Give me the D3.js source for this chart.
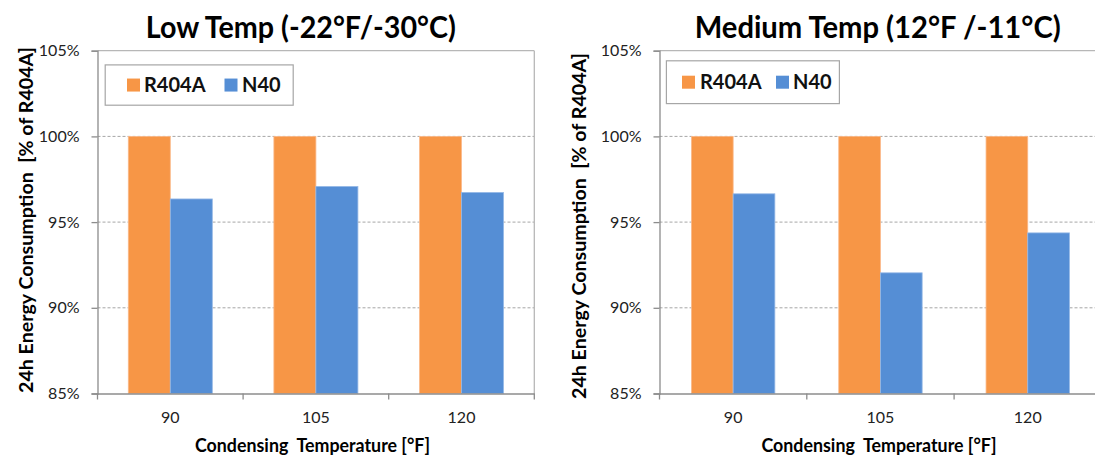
<!DOCTYPE html>
<html><head><meta charset="utf-8">
<script src="https://cdn.jsdelivr.net/npm/d3@7"></script>
<style>
html,body{margin:0;padding:0;background:#fff;}
svg{display:block;font-family:Lato, "Open Sans", sans-serif;}
</style></head>
<body><svg id="chart" width="1095" height="456"></svg>
<script>
const categories = ["90", "105", "120"];
const seriesNames = ["R404A", "N40"];
const lowR404A = [100, 100, 100];
const lowN40 = [96.35, 97.08, 96.73];
const medR404A = [100, 100, 100];
const medN40 = [96.65, 92.04, 94.37];
const yTicks = [85, 90, 95, 100, 105];
const titles = ["Low Temp (-22°F/-30°C)", "Medium Temp (12°F /-11°C)"];
const yTitle = "24h Energy Consumption\u00a0\u00a0[% of R404A]";
const xTitle = "Condensing\u00a0\u00a0Temperature [°F]";

const colors = {R404A: "#F79646", N40: "#558ED5"};
const strokes = {R404A: "#FAB98A", N40: "#95B8E6"};
const svg = d3.select("#chart");

function panel(cfg) {
  const g = svg.append("g");
  const y = d3.scaleLinear().domain([85, 105]).range([393.5, 50.7]);
  const x = d3.scaleBand().domain(categories).range([cfg.x0, cfg.x0 + 3 * cfg.step]).padding(0);
  const xs = d3.scaleBand().domain(seriesNames).range([0, cfg.step]).paddingInner(0).paddingOuter(cfg.po);
  const plotR = cfg.x0 + 3 * cfg.step;

  // gridlines
  g.selectAll("line.grid").data(yTicks.filter(t => t > 85 && t < 105)).join("line")
    .attr("x1", cfg.x0).attr("x2", plotR).attr("y1", d => y(d)).attr("y2", d => y(d))
    .attr("stroke", "#A6A6A6").attr("stroke-width", 1).attr("stroke-dasharray", "3,2");
  // top & right border
  g.append("line").attr("x1", cfg.x0).attr("x2", plotR).attr("y1", y(105)).attr("y2", y(105))
    .attr("stroke", "#B7B7B7").attr("stroke-width", 1.3);
  g.append("line").attr("x1", plotR).attr("x2", plotR).attr("y1", y(105)).attr("y2", y(85))
    .attr("stroke", "#B7B7B7").attr("stroke-width", 1.3);

  // bars
  const rows = categories.map((c, i) => ({c, vals: [{s: "R404A", v: cfg.a[i]}, {s: "N40", v: cfg.b[i]}]}));
  const grp = g.selectAll("g.cat").data(rows).join("g").attr("transform", d => `translate(${x(d.c)},0)`);
  grp.selectAll("rect").data(d => d.vals).join("rect")
    .attr("x", d => xs(d.s)).attr("width", xs.bandwidth())
    .attr("y", d => y(d.v)).attr("height", d => y(85) - y(d.v))
    .attr("fill", d => colors[d.s]).attr("stroke", d => strokes[d.s]).attr("stroke-width", 0.8);

  // y axis
  const ya = d3.axisLeft(y).tickValues(yTicks).tickFormat(d => d + "%").tickSize(6).tickPadding(12);
  const yg = g.append("g").attr("transform", `translate(${cfg.x0},0)`).call(ya);
  yg.select(".domain").attr("stroke", "#8C8C8C").attr("stroke-width", 1.3);
  yg.selectAll(".tick line").attr("stroke", "#8C8C8C").attr("stroke-width", 1.3);
  yg.selectAll(".tick text").attr("fill", "#222").style("font-size", "16px").style("font-family", "Lato");

  // x axis
  const xa = d3.axisBottom(x).tickSize(0).tickPadding(18);
  const xg = g.append("g").attr("transform", `translate(0,${y(85)})`).call(xa);
  xg.select(".domain").attr("stroke", "#8C8C8C").attr("stroke-width", 1.3);
  xg.selectAll(".tick text").attr("fill", "#222").style("font-size", "16px").style("font-family", "Lato");
  const bounds = d3.range(categories.length + 1).map(i => cfg.x0 + i * x.step());
  g.selectAll("line.ctick").data(bounds).join("line")
    .attr("x1", d => d).attr("x2", d => d).attr("y1", y(85)).attr("y2", y(85) + 6)
    .attr("stroke", "#8C8C8C").attr("stroke-width", 1.3);

  // title
  g.append("text").attr("x", cfg.tx).attr("y", 38).attr("text-anchor", "middle")
    .style("font-size", "30px").style("font-weight", "bold").attr("fill", "#000")
    .attr("textLength", cfg.tw).attr("lengthAdjust", "spacingAndGlyphs").text(cfg.title);

  // y title
  g.append("text").attr("transform", `translate(${cfg.ytx},${cfg.yty}) rotate(-90)`)
    .attr("text-anchor", "middle").style("font-size", "19px").style("font-weight", "bold")
    .attr("fill", "#000").attr("textLength", 346).attr("lengthAdjust", "spacingAndGlyphs").text(yTitle);

  // x title
  g.append("text").attr("x", cfg.xtx).attr("y", 451.5).attr("text-anchor", "middle")
    .style("font-size", "18px").style("font-weight", "bold").attr("fill", "#000")
    .attr("textLength", 235).attr("lengthAdjust", "spacingAndGlyphs").text(xTitle);

  // legend
  const L = cfg.leg;
  const lg = g.append("g");
  lg.append("rect").attr("x", L.x).attr("y", L.y).attr("width", L.w).attr("height", L.h)
    .attr("fill", "#fff").attr("stroke", "#A6A6A6").attr("stroke-width", 1.2);
  seriesNames.forEach((s, i) => {
    lg.append("rect").attr("x", L.sx[i]).attr("y", L.y + L.h / 2 - 6.5).attr("width", 13).attr("height", 13)
      .attr("fill", colors[s]);
    lg.append("text").attr("x", L.tx[i]).attr("y", L.y + L.h / 2 + 7).style("font-size", "20px")
      .style("font-weight", "bold").attr("fill", "#111").text(s);
  });
}

panel({x0: 97.5, step: 145.6, po: 0.733, a: lowR404A, b: lowN40, title: titles[0], tx: 300.8, tw: 310,
  ytx: 33, yty: 220, xtx: 312.5,
  leg: {x: 105.2, y: 64.9, w: 188, h: 40.3, sx: [127, 224.5], tx: [144, 242]}});
panel({x0: 659.5, step: 147.3, po: 0.766, a: medR404A, b: medN40, title: titles[1], tx: 877.7, tw: 366,
  ytx: 586, yty: 226, xtx: 879,
  leg: {x: 666.4, y: 60.8, w: 173, h: 42.8, sx: [682, 776], tx: [700, 793]}});
</script></body></html>
